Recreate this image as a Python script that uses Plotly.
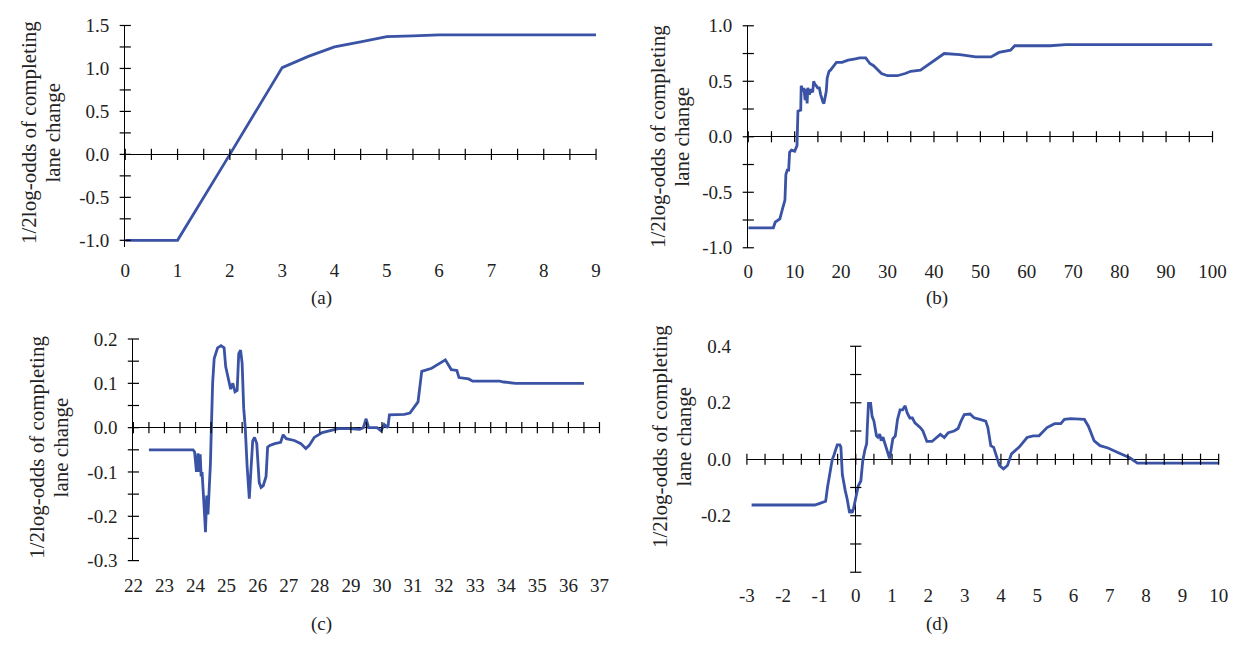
import plotly.graph_objects as go

W, H = 1252, 650
BLUE = "#3A53A4"
FONT = "Liberation Serif"

# ---------------- data ----------------
a_x = [0, 1, 2, 3, 3.5, 4, 4.5, 5, 5.5, 6, 9]
a_y = [-1.0, -1.0, 0.0, 1.01, 1.14, 1.25, 1.31, 1.37, 1.38, 1.39, 1.39]

b_x = [0, 5.4, 5.8, 6.8, 7.3, 7.9, 8.1, 8.4, 8.7, 8.9, 9.3, 10.0, 10.5, 10.6, 10.7, 11.3, 11.4,
       11.76, 11.97, 12.25, 12.46, 12.68, 12.82, 13.17, 13.52, 13.87, 14.08, 14.37, 14.65, 14.93,
       15.3, 15.6, 15.85, 16.1, 16.3, 16.5, 16.8, 17.0, 17.4, 17.7, 19.0, 20.2, 21.5, 22.8, 24.0,
       25.3, 26.2, 27.0, 28.7, 30.0, 32.1, 33.8, 35.0, 37.1, 38.4, 40.5, 42.2, 45.6, 47.3, 49.0,
       52.3, 54.0, 56.5, 57.4, 59.9, 65.0, 68.4, 100]
b_y = [-0.82, -0.82, -0.77, -0.74, -0.66, -0.57, -0.34, -0.30, -0.30, -0.14, -0.12, -0.13, -0.08,
       0.04, 0.23, 0.24, 0.46, 0.41, 0.44, 0.33, 0.43, 0.30, 0.44, 0.38, 0.43, 0.40, 0.50, 0.47,
       0.46, 0.44, 0.44, 0.38, 0.33, 0.31, 0.30, 0.34, 0.41, 0.53, 0.59, 0.60, 0.67, 0.67, 0.69,
       0.70, 0.71, 0.71, 0.66, 0.64, 0.57, 0.55, 0.55, 0.57, 0.59, 0.60, 0.64, 0.70, 0.75, 0.74,
       0.73, 0.72, 0.72, 0.76, 0.78, 0.82, 0.82, 0.82, 0.83, 0.83]

c_x = [22.5, 23.92, 23.97, 24.0, 24.03, 24.08, 24.11, 24.15, 24.18, 24.21, 24.26, 24.29, 24.32,
       24.36, 24.4, 24.45, 24.48, 24.51, 24.55, 24.6, 24.66, 24.71, 24.82, 24.92, 24.97, 25.06,
       25.13, 25.2, 25.27, 25.34, 25.39, 25.45, 25.5, 25.55, 25.6, 25.66, 25.73, 25.78, 25.84,
       25.9, 25.97, 26.05, 26.11, 26.18, 26.27, 26.32, 26.39, 26.55, 26.74, 26.82, 26.92, 27.18,
       27.39, 27.55, 27.66, 27.82, 28.08, 28.59, 28.96, 29.28, 29.4, 29.49, 29.57, 29.84, 29.97,
       30.07, 30.19, 30.24, 30.72, 30.9, 31.16, 31.28, 31.6, 32.04, 32.23, 32.41, 32.48, 32.79,
       32.92, 33.79, 33.92, 34.3, 36.5]
c_y = [-0.05, -0.05, -0.055, -0.08, -0.10, -0.058, -0.10, -0.06, -0.11, -0.10, -0.15, -0.196,
       -0.236, -0.153, -0.196, -0.138, -0.08, 0.0, 0.10, 0.156, 0.17, 0.18, 0.185, 0.18, 0.138,
       0.11, 0.087, 0.10, 0.081, 0.084, 0.167, 0.175, 0.145, 0.044, 0.0, -0.087, -0.16, -0.10,
       -0.03, -0.022, -0.036, -0.124, -0.135, -0.131, -0.11, -0.044, -0.04, -0.036, -0.033,
       -0.016, -0.025, -0.029, -0.036, -0.047, -0.04, -0.022, -0.011, -0.002, -0.002, -0.004,
       0.0, 0.02, 0.0, 0.0, -0.007, 0.007, 0.0, 0.029, 0.03, 0.033, 0.058, 0.127, 0.134, 0.153,
       0.131, 0.129, 0.113, 0.11, 0.105, 0.105, 0.103, 0.10, 0.10]

d_x = [-2.87, -1.13, -1.01, -0.83, -0.78, -0.74, -0.69, -0.65, -0.60, -0.56, -0.51, -0.44, -0.41,
       -0.37, -0.33, -0.29, -0.24, -0.20, -0.17, -0.14, -0.10, -0.06, -0.02, 0.03, 0.07, 0.14,
       0.19, 0.25, 0.30, 0.32, 0.35, 0.41, 0.45, 0.50, 0.57, 0.61, 0.66, 0.70, 0.75, 0.79, 0.86,
       0.93, 0.97, 1.02, 1.09, 1.15, 1.22, 1.29, 1.36, 1.42, 1.49, 1.56, 1.63, 1.69, 1.78, 1.85,
       1.92, 1.96, 2.10, 2.19, 2.33, 2.44, 2.55, 2.71, 2.82, 2.90, 2.99, 3.15, 3.26, 3.42, 3.58,
       3.64, 3.72, 3.80, 3.88, 3.96, 4.07, 4.18, 4.29, 4.51, 4.72, 4.89, 5.05, 5.27, 5.48, 5.65,
       5.75, 5.92, 6.19, 6.30, 6.41, 6.57, 6.73, 6.95, 7.22, 7.55, 7.76, 10.0]
d_y = [-0.162, -0.162, -0.157, -0.149, -0.10, -0.065, -0.019, -0.002, 0.015, 0.032, 0.051, 0.051,
       0.043, -0.054, -0.088, -0.111, -0.139, -0.168, -0.19, -0.179, -0.19, -0.174, -0.145,
       -0.117, -0.094, -0.077, -0.008, 0.032, 0.055, 0.118, 0.198, 0.198, 0.152, 0.135, 0.083,
       0.078, 0.089, 0.066, 0.078, 0.061, 0.032, 0.003, 0.032, 0.072, 0.083, 0.141, 0.175, 0.175,
       0.189, 0.163, 0.146, 0.146, 0.129, 0.123, 0.112, 0.10, 0.072, 0.063, 0.063, 0.072, 0.088,
       0.077, 0.094, 0.10, 0.109, 0.135, 0.158, 0.16, 0.147, 0.141, 0.135, 0.112, 0.048, 0.042,
       0.007, -0.022, -0.034, -0.022, 0.019, 0.044, 0.077, 0.083, 0.083, 0.112, 0.126, 0.126,
       0.141, 0.144, 0.142, 0.141, 0.117, 0.065, 0.048, 0.040, 0.024, 0.005, -0.014, -0.014]

# tick label values / texts
a_xticks = list(range(0, 10))
a_yticks = [-1.0, -0.5, 0.0, 0.5, 1.0, 1.5]
a_ytext = ["-1.0", "-0.5", "0.0", "0.5", "1.0", "1.5"]
b_xticks = list(range(0, 101, 10))
b_yticks = [-1.0, -0.5, 0.0, 0.5, 1.0]
b_ytext = ["-1.0", "-0.5", "0.0", "0.5", "1.0"]
c_xticks = list(range(22, 38))
c_yticks = [-0.3, -0.2, -0.1, 0.0, 0.1, 0.2]
c_ytext = ["-0.3", "-0.2", "-0.1", "0.0", "0.1", "0.2"]
d_xticks = list(range(-3, 11))
d_yticks = [-0.2, 0.0, 0.2, 0.4]
d_ytext = ["-0.2", "0.0", "0.2", "0.4"]

# minor tick marks drawn on the axes
a_xminor = [i * 0.5 for i in range(0, 19)]
a_yminor = [-1.0 + i * 0.25 for i in range(0, 11)]
b_xminor = list(range(0, 101, 5))
b_yminor = [-1.0 + i * 0.25 for i in range(0, 9)]
c_xminor = [22 + i * 0.5 for i in range(0, 31)]
c_yminor = [round(-0.3 + i * 0.05, 2) for i in range(0, 11)]
d_xminor = [-3 + i * 0.5 for i in range(0, 27)]
d_yminor = [round(-0.4 + i * 0.1, 1) for i in range(0, 9)]

YTITLE1 = "1/2log-odds of completing"
YTITLE2 = "lane change"

def dom_x(p0, p1):
    return [p0 / W, p1 / W]

def dom_y(top, bottom):
    return [1 - bottom / H, 1 - top / H]

panels = [
    dict(x=a_x, y=a_y, xr=[0, 9], yr=[-1.08, 1.5], xd=(117.5, 597.5), yd=(16, 245.1),
         xt=a_xticks, yt=a_yticks, ytt=a_ytext, xm=a_xminor, ym=a_yminor, yax=0, xtl=6,
         lab="(a)", labpos=(318, 298), tpos=(19.5, 43.5, 127)),
    dict(x=b_x, y=b_y, xr=[0, 100], yr=[-1.0, 1.0], xd=(752.7, 1226), yd=(16.3, 245.7),
         xt=b_xticks, yt=b_yticks, ytt=b_ytext, xm=b_xminor, ym=b_yminor, yax=0, xtl=6,
         lab="(b)", labpos=(945, 298), tpos=(660, 685, 131)),
    dict(x=c_x, y=c_y, xr=[22, 37], yr=[-0.3, 0.2], xd=(125.8, 601), yd=(340, 569),
         xt=c_xticks, yt=c_yticks, ytt=c_ytext, xm=c_xminor, ym=c_yminor, yax=22, xtl=8,
         lab="(c)", labpos=(318, 635), tpos=(28, 52, 452)),
    dict(x=d_x, y=d_y, xr=[-3, 10], yr=[-0.4, 0.4], xd=(751.3, 1232.3), yd=(347.5, 581),
         xt=d_xticks, yt=d_yticks, ytt=d_ytext, xm=d_xminor, ym=d_yminor, yax=0, xtl=6,
         lab="(d)", labpos=(945, 635), tpos=(662, 687, 441)),
]

fig = go.Figure()
annotations = []
layout = {}

for i, p in enumerate(panels, start=1):
    xa = "x" if i == 1 else f"x{i}"
    ya = "y" if i == 1 else f"y{i}"
    xkey = "xaxis" if i == 1 else f"xaxis{i}"
    ykey = "yaxis" if i == 1 else f"yaxis{i}"
    interior_y_axis = p["xr"][0] < p["yax"]

    # data line
    fig.add_trace(go.Scatter(x=p["x"], y=p["y"], mode="lines", xaxis=xa, yaxis=ya,
                             line=dict(color=BLUE, width=2.8), showlegend=False,
                             hoverinfo="skip"))
    # tick marks crossing the horizontal axis at y = 0
    fig.add_trace(go.Scatter(x=p["xm"], y=[0] * len(p["xm"]), mode="markers",
                             xaxis=xa, yaxis=ya, cliponaxis=False, showlegend=False,
                             hoverinfo="skip",
                             marker=dict(symbol="line-ns", size=8,
                                         line=dict(color="black", width=1.2))))
    # tick marks crossing the vertical axis
    fig.add_trace(go.Scatter(x=[p["yax"]] * len(p["ym"]), y=p["ym"], mode="markers",
                             xaxis=xa, yaxis=ya, cliponaxis=False, showlegend=False,
                             hoverinfo="skip",
                             marker=dict(symbol="line-ew", size=8,
                                         line=dict(color="black", width=1.2))))

    layout[xkey] = dict(
        domain=dom_x(*p["xd"]), range=p["xr"], anchor=ya,
        tickmode="array", tickvals=p["xt"], ticktext=[str(v) for v in p["xt"]],
        ticks="outside", ticklen=p["xtl"], tickcolor="rgba(0,0,0,0)",
        showgrid=False, showline=False,
        zeroline=interior_y_axis, zerolinecolor="black", zerolinewidth=1.3,
        tickfont=dict(family=FONT, size=19, color="#222"),
        fixedrange=True,
    )
    layout[ykey] = dict(
        domain=dom_y(*p["yd"]), range=p["yr"], anchor=xa,
        tickmode="array", tickvals=p["yt"], ticktext=p["ytt"],
        ticks="outside", ticklen=11, tickcolor="rgba(0,0,0,0)",
        showgrid=False,
        showline=not interior_y_axis, linecolor="black", linewidth=1.3,
        zeroline=True, zerolinecolor="black", zerolinewidth=1.3,
        tickfont=dict(family=FONT, size=19, color="#222"),
        fixedrange=True,
    )

    annotations.append(dict(text=p["lab"], xref="paper", yref="paper",
                            x=p["labpos"][0] / W, y=1 - p["labpos"][1] / H,
                            xanchor="center", yanchor="middle", showarrow=False,
                            font=dict(family=FONT, size=19, color="#222")))
    t1x, t2x, ty = p["tpos"]
    for txt, tx in ((YTITLE1, t1x), (YTITLE2, t2x)):
        annotations.append(dict(text=txt, xref="paper", yref="paper",
                                x=tx / W, y=1 - ty / H, textangle=-90,
                                xanchor="center", yanchor="middle", showarrow=False,
                                font=dict(family=FONT, size=21, color="#222")))

fig.update_layout(
    width=W, height=H, margin=dict(l=0, r=0, t=0, b=0),
    paper_bgcolor="white", plot_bgcolor="white",
    showlegend=False, annotations=annotations,
    **layout,
)

fig.write_html("out.html", config={"displayModeBar": False})
